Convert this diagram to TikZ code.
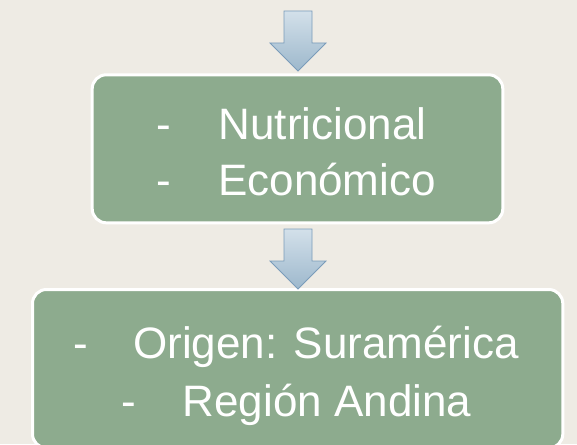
\documentclass[tikz,border=0pt]{standalone}
\usepackage{fontspec}
\setmainfont{Liberation Sans}
\usetikzlibrary{shadings}
\definecolor{bgbeige}{HTML}{EEEBE4}
\definecolor{boxgreen}{HTML}{8DAB8E}
\definecolor{arrowtop}{HTML}{D3E0EA}
\definecolor{arrowbottom}{HTML}{9DB8CC}
\definecolor{arrowline}{HTML}{7A9CBA}
\tikzset{
    box/.style={draw=white, line width=3pt, fill=boxgreen, rounded corners=14pt, inner sep=0pt},
    downarrow/.style={draw=arrowline, line width=0.8pt, top color=arrowtop, bottom color=arrowbottom},
    item/.style={anchor=base west, inner sep=0pt, text=white, font=\fontsize{44}{50}\selectfont}
}
\begin{document}
\begin{tikzpicture}[x=1pt, y=-1pt]
            \fill[bgbeige] (0, 0) rectangle (577, 444);
            \useasboundingbox (0, 0) rectangle (577, 444);
            \begin{scope}
                \clip (0, 0) rectangle (577, 444);
                \node[box, minimum width=410.6pt, minimum height=148pt] (usos) at (297.5, 148.8) {};
                \node[box, minimum width=530.3pt, minimum height=158.5pt] (origen) at (297.65, 368.75) {};
            \end{scope}
            \foreach \y in {11, 229}
                \draw[downarrow] (284, \y) -- (312, \y) -- (312, \y+32) -- (326, \y+32)
                    -- (298, \y+60) -- (270, \y+32) -- (284, \y+32) -- cycle;
            \foreach \dx/\tx/\y/\txt [count=\i] in {156/218.4/139/Nutricional, 156/218/195.5/Económico,
                    73/133/358.7/Origen: Suramérica, 121/182.5/416.3/Región Andina}{
                \node[item] (dash\i) at (\dx, \y) {-};
                \node[item] (line\i) at (\tx, \y) {\txt};
            }
\end{tikzpicture}
\end{document}
